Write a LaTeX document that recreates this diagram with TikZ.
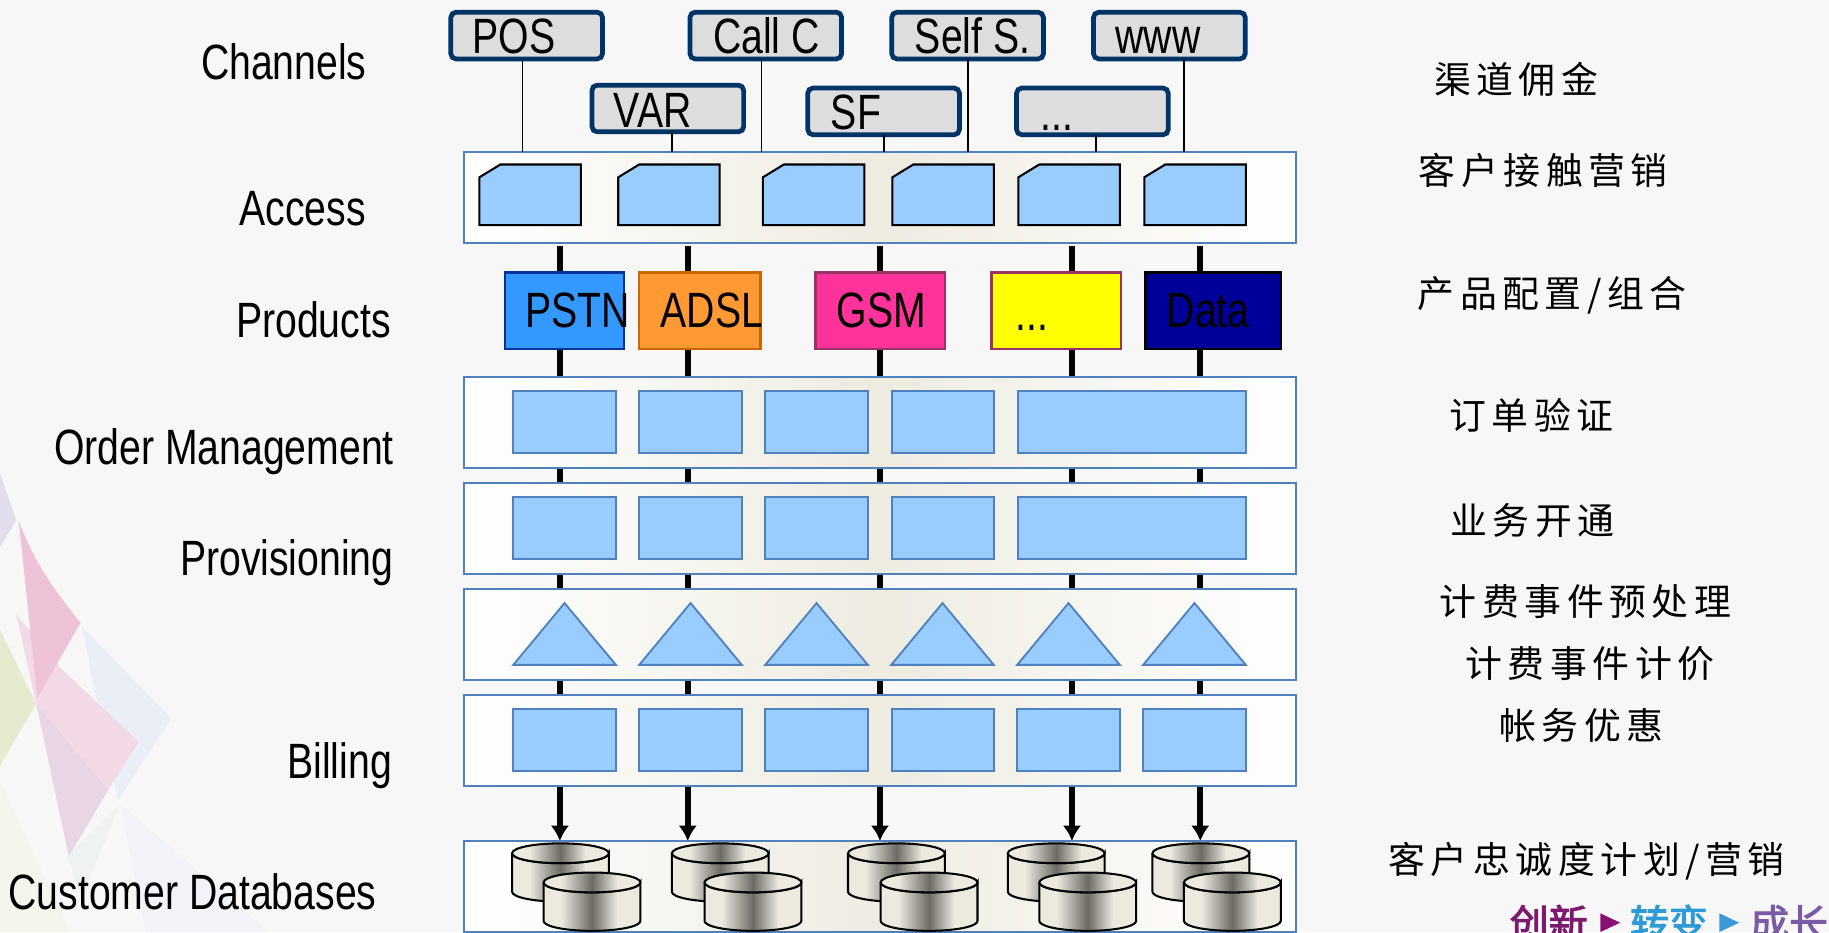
\documentclass[tikz,border=0pt]{standalone}
\usepackage{fontspec}
\usetikzlibrary{arrows.meta,backgrounds}
\newfontfamily\narrowfont[FakeStretch=0.79]{Liberation Sans}
\newfontfamily\cjkfont[LetterSpace=15]{Noto Sans CJK SC}
\newfontfamily\logofont[FakeBold=2.5]{Noto Sans CJK SC}
\definecolor{pagegray}{rgb}{0.969,0.969,0.969}
\definecolor{panelblue}{rgb}{0.310,0.506,0.741}
\definecolor{panelmid}{rgb}{0.933,0.925,0.882}
\definecolor{cellblue}{rgb}{0.600,0.800,1.000}
\definecolor{chanblue}{rgb}{0.000,0.200,0.400}
\definecolor{changray}{rgb}{0.867,0.867,0.867}
\definecolor{canlight}{rgb}{0.925,0.918,0.875}
\definecolor{candark}{rgb}{0.420,0.416,0.392}
\definecolor{pureyellow}{rgb}{1,1,0}
\pgfdeclarehorizontalshading{canshade}{100bp}{color(0bp)=(canlight); color(34bp)=(canlight);
  color(50bp)=(candark); color(63bp)=(canlight); color(100bp)=(canlight)}
\tikzset{
  panel/.style={draw=panelblue,line width=1pt,minimum width=14.26cm,minimum height=1.56cm,
    left color=white,right color=white,middle color=panelmid,inner sep=0,outer sep=0},
  cell/.style={draw=panelblue,line width=0.9pt,fill=cellblue},
  cellbox/.style={cell,minimum width=1.76cm,minimum height=1.06cm,inner sep=0,outer sep=0},
  cellwide/.style={cellbox,minimum width=3.9cm},
  snipbox/.style={draw=black,line width=1pt,fill=cellblue},
  chan/.style={draw=chanblue,line width=2.3pt,fill=changray,rounded corners=2.5pt,
    minimum width=2.6cm,minimum height=0.8cm,inner sep=0,outer sep=0},
  prod/.style={line width=1.1pt,minimum height=1.32cm,inner sep=0,outer sep=0},
  boxtext/.style={anchor=base west,inner sep=0,font=\narrowfont\fontsize{24.2}{28}\selectfont},
  sidetext/.style={boxtext},
  cjktext/.style={anchor=west,inner sep=0,font=\cjkfont\fontsize{18}{21}\selectfont},
  logotext/.style={anchor=base west,inner sep=0,font=\logofont\fontsize{19}{22}\selectfont},
  feed/.style={draw=black,line width=0.7pt},
  bus/.style={draw=black,line width=2.8pt},
  can/.style={draw=black,line width=1pt,shading=canshade}
}
\newcommand{\dbcan}[2]{
  \begin{scope}[shift={(#1,#2)}]
    \draw [can] (0,8.5) -- (0,41.5) arc [start angle=180,end angle=0,x radius=41.5,y radius=8.5]
      -- (83,8.5) arc [start angle=0,end angle=180,x radius=41.5,y radius=8.5];
    \draw [can] (41.5,8.5) ellipse [x radius=41.5,y radius=8.5];
  \end{scope}
}

\begin{document}
\begin{tikzpicture}[x=0.02cm,y=-0.02cm]

\useasboundingbox (0,0) rectangle (1568,799);
\clip (0,0) rectangle (1568,799);

% backdrop
\begin{scope}[on background layer]
\fill [pagegray] (0,0) rectangle (1568,799);
\fill [fill={rgb,1:red,0.886;green,0.867;blue,0.925}] (0,406) -- (14,446) -- (0,469) -- cycle;
\fill [fill={rgb,1:red,0.902;green,0.922;blue,0.812}] (0,540) -- (31,603) -- (0,657) -- cycle;
\fill [fill={rgb,1:red,0.914;green,0.933;blue,0.969}] (70,537) -- (147,616) -- (101,686) -- cycle;
\fill [fill={rgb,1:red,0.933;green,0.949;blue,0.945}] (58,734) -- (103,689) -- (70,770) -- cycle;
\fill [fill={rgb,1:red,0.945;green,0.953;blue,0.973}] (103,689) -- (230,799) -- (125,799) -- cycle;
\fill [fill={rgb,1:red,0.957;green,0.961;blue,0.925}] (0,669) -- (60,799) -- (0,799) -- cycle;
\fill [fill={rgb,1:red,0.953;green,0.851;blue,0.902}] (14,527) -- (50,571) -- (31,603) -- cycle;
\fill [fill={rgb,1:red,0.910;green,0.839;blue,0.894}] (31,603) -- (93,677) -- (59,734) -- cycle;
\fill [fill={rgb,1:red,0.953;green,0.851;blue,0.902}] (50,571) -- (119,636) -- (93,677) -- (31,603) -- cycle;
\fill [fill={rgb,1:red,0.937;green,0.765;blue,0.839}] (16,446) .. controls (30,485) and (50,510) .. (69,534) -- (32,598) -- cycle;
\end{scope}

%% side labels
\node [sidetext] (lblchannels) at (172,68) {Channels};
\node [sidetext] (lblaccess) at (205,193) {Access};
\node [sidetext] (lblproducts) at (202,289) {Products};
\node [sidetext] (lblorder) at (46,398) {Order Management};
\node [sidetext] (lblprov) at (154,493) {Provisioning};
\node [sidetext] (lblbilling) at (246,667) {Billing};
\node [sidetext] (lbldb) at (7,780) {Customer Databases};

%% panels
\node [panel] (access) at (754.5,169) {};
\node [panel] (order) at (754.5,362) {};
\node [panel] (prov) at (754.5,453) {};
\node [panel] (rate) at (754.5,544) {};
\node [panel] (bill) at (754.5,635) {};
\node [panel] (db) at (754.5,760) {};

%% channels
% upper
\node [chan] (pos) at (451.5,30.5) {};
\node [chan] (callc) at (656.5,30.5) {};
\node [chan] (selfs) at (829.5,30.5) {};
\node [chan] (www) at (1002.5,30.5) {};
\node [boxtext] (postext) at (405,46) {POS};
\node [boxtext] (callctext) at (611,46) {Call C};
\node [boxtext] (selfstext) at (784,46) {Self S.};
\node [boxtext] (wwwtext) at (956,46) {www};
% lower
\node [chan] (var) at (572.5,93) {};
\node [chan] (sf) at (757.5,95.5) {};
\node [chan] (more) at (936.5,95.5) {};
\node [boxtext] (vartext) at (526,109) {VAR};
\node [boxtext] (sftext) at (712,111) {SF};
\node [boxtext] (moretext) at (892,112) {...};
% feeds
\draw [feed] (447.8,0 |- pos.south) -- (447.8,0 |- access.north);
\draw [feed] (576,0 |- var.south) -- (576,0 |- access.north);
\draw [feed] (652.6,0 |- callc.south) -- (652.6,0 |- access.north);
\draw [feed] (758,0 |- sf.south) -- (758,0 |- access.north);
\draw [feed] (830,0 |- selfs.south) -- (830,0 |- access.north);
\draw [feed] (939.5,0 |- more.south) -- (939.5,0 |- access.north);
\draw [feed] (1015,0 |- www.south) -- (1015,0 |- access.north);

%% access
\draw [snipbox] (411,152) -- ++(18,-11) -| (498,193) -| cycle;
\draw [snipbox] (530,152) -- ++(18,-11) -| (617,193) -| cycle;
\draw [snipbox] (654,152) -- ++(18,-11) -| (741,193) -| cycle;
\draw [snipbox] (765,152) -- ++(18,-11) -| (852,193) -| cycle;
\draw [snipbox] (873,152) -- ++(18,-11) -| (960,193) -| cycle;
\draw [snipbox] (981,152) -- ++(18,-11) -| (1068,193) -| cycle;

%% products
\node [prod,draw={rgb,1:red,0;green,0.2;blue,0.6},fill={rgb,1:red,0.2;green,0.6;blue,1},minimum width=2.04cm] (pstn) at (484,266.5) {};
\node [prod,draw={rgb,1:red,0.8;green,0.4;blue,0},fill={rgb,1:red,1;green,0.6;blue,0.2},minimum width=2.08cm] (adsl) at (600,266.5) {};
\node [prod,draw={rgb,1:red,0.6;green,0.2;blue,0.4},fill={rgb,1:red,1;green,0.2;blue,0.6},minimum width=2.22cm] (gsm) at (754.5,266.5) {};
\node [prod,draw={rgb,1:red,0.6;green,0.2;blue,0.4},fill=pureyellow,minimum width=2.22cm] (etc) at (905.5,266.5) {};
\node [prod,draw=black,fill={rgb,1:red,0;green,0;blue,0.6},minimum width=2.32cm] (data) at (1040,266.5) {};
\node [boxtext] (pstntext) at (450,281) {PSTN};
\node [boxtext] (adsltext) at (566,281) {ADSL};
\node [boxtext] (gsmtext) at (717,281) {GSM};
\node [boxtext] (etctext) at (870,283) {...};
\node [boxtext] (datatext) at (1000,281) {Data};

%% order management
\node [cellbox] (orderA) at (484,361.5) {};
\node [cellbox] (orderB) at (592,361.5) {};
\node [cellbox] (orderC) at (700,361.5) {};
\node [cellbox] (orderD) at (808.5,361.5) {};
\node [cellwide] (orderE) at (970.5,361.5) {};

%% provisioning
\node [cellbox] (provA) at (484,452.5) {};
\node [cellbox] (provB) at (592,452.5) {};
\node [cellbox] (provC) at (700,452.5) {};
\node [cellbox] (provD) at (808.5,452.5) {};
\node [cellwide] (provE) at (970.5,452.5) {};

%% rating
\draw [cell] (440,570) -- (484,517) -- (528,570) -- cycle;
\draw [cell] (548,570) -- (592,517) -- (636,570) -- cycle;
\draw [cell] (656,570) -- (700,517) -- (744,570) -- cycle;
\draw [cell] (764,570) -- (808,517) -- (852,570) -- cycle;
\draw [cell] (872,570) -- (916,517) -- (960,570) -- cycle;
\draw [cell] (980,570) -- (1024,517) -- (1068,570) -- cycle;

%% billing
\node [cellbox] (billA) at (484,634.5) {};
\node [cellbox] (billB) at (592,634.5) {};
\node [cellbox] (billC) at (700,634.5) {};
\node [cellbox] (billD) at (808.5,634.5) {};
\node [cellbox] (billE) at (916,634.5) {};
\node [cellbox] (billF) at (1024,634.5) {};

%% databases
\dbcan{439}{723} \dbcan{466}{748}
\dbcan{576}{723} \dbcan{604}{748}
\dbcan{727}{723} \dbcan{755}{748}
\dbcan{864}{723} \dbcan{891}{748}
\dbcan{988}{723} \dbcan{1015}{748}

%% buses run behind the panels
\begin{scope}[on background layer]
\draw [bus,-{Latex[length=7.5pt,width=9pt]},shorten <=1.7pt] (480,0 |- access.south) -- (480,0 |- db.north);
\draw [bus,-{Latex[length=7.5pt,width=9pt]},shorten <=1.7pt] (589.6,0 |- access.south) -- (589.6,0 |- db.north);
\draw [bus,-{Latex[length=7.5pt,width=9pt]},shorten <=1.7pt] (754.4,0 |- access.south) -- (754.4,0 |- db.north);
\draw [bus,-{Latex[length=7.5pt,width=9pt]},shorten <=1.7pt] (919,0 |- access.south) -- (919,0 |- db.north);
\draw [bus,-{Latex[length=7.5pt,width=9pt]},shorten <=1.7pt] (1029,0 |- access.south) -- (1029,0 |- db.north);
\end{scope}

%% right column
\node [cjktext] (noteA) at (1229,68) {渠道佣金};
\node [cjktext] (noteB) at (1216,146) {客户接触营销};
\node [cjktext] (noteC) at (1215,253) {产品配置/组合};
\node [cjktext] (noteD) at (1242,356) {订单验证};
\node [cjktext] (noteE) at (1243,446) {业务开通};
\node [cjktext] (noteF) at (1234,516) {计费事件预处理};
\node [cjktext] (noteG) at (1256,569) {计费事件计价};
\node [cjktext] (noteH) at (1285,622) {帐务优惠};
\node [cjktext] (noteI) at (1190,738) {客户忠诚度计划/营销};

%% logo
\node [logotext,text={rgb,1:red,0.482;green,0.102;blue,0.431}] (logoA) at (1294,804) {创新};
\fill [fill={rgb,1:red,0.541;green,0.059;blue,0.447}] (1372,783) -- (1389,791) -- (1372,799) -- cycle;
\node [logotext,text={rgb,1:red,0.180;green,0.608;blue,0.839}] (logoB) at (1397,804) {转变};
\fill [fill={rgb,1:red,0.227;green,0.604;blue,0.851}] (1474,783) -- (1491,791) -- (1474,799) -- cycle;
\node [logotext,text={rgb,1:red,0.482;green,0.353;blue,0.651}] (logoC) at (1500,804) {成长};

\end{tikzpicture}
\end{document}
